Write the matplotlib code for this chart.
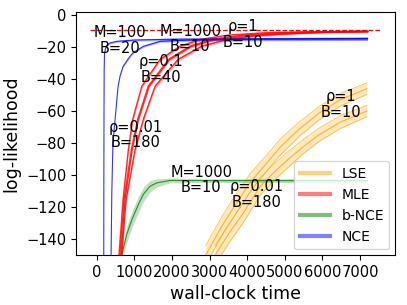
import matplotlib
matplotlib.use("Agg")
import matplotlib.pyplot as plt
import numpy as np

# ---------------- data ----------------
# NCE (blue)
nce1_x = [185, 188, 192, 196, 205, 230, 266, 354, 532, 1000, 2000, 4000, 7200]
nce1_y = [-150, -100, -60, -35, -24, -21, -19, -17.4, -16.4, -15.6, -15.1, -14.8, -14.6]
nce1_e = [0.5, 0.5, 0.5, 0.5, 0.5, 0.5, 0.5, 0.5, 0.6, 0.7, 0.8, 0.9, 1.0]
nce2_x = [380, 400, 430, 487, 566, 620, 700, 886, 965, 1240, 1683, 2500, 4000, 7200]
nce2_y = [-150, -110, -80, -65, -44.5, -38, -32, -25.7, -23.5, -19.5, -16.4, -15.6, -15.2, -14.9]
nce2_e = [0.5, 0.5, 0.5, 0.5, 0.5, 0.5, 0.5, 0.5, 0.5, 0.6, 0.7, 0.8, 0.9, 1.0]

# MLE (red)
mle1_x = [590, 700, 840, 957, 1197, 1680, 2215, 2750, 3500, 4500, 5500, 7200]
mle1_y = [-150, -115, -84, -65, -44.5, -27.8, -19.5, -15.3, -12.5, -11.0, -10.5, -10.2]
mle2_x = [630, 740, 930, 1100, 1380, 1920, 2500, 3100, 3900, 4800, 5800, 7200]
mle2_y = [-150, -115, -84, -65, -44.5, -27.8, -19.5, -15.3, -12.8, -11.5, -10.7, -10.2]
mle3_x = [665, 780, 1020, 1240, 1550, 2160, 2790, 3460, 4200, 5000, 6000, 7200]
mle3_y = [-150, -115, -84, -65, -44.5, -27.8, -19.5, -15.3, -13.0, -11.8, -10.8, -10.3]
mle_e = [3, 3, 2.5, 2, 1.5, 1.2, 1.0, 0.8, 0.6, 0.5, 0.4, 0.3]
mle_opt = -9.6

# b-NCE (green)
bnce_x = [665, 798, 931, 1107, 1240, 1418, 1596, 1950, 3000, 5000, 7200]
bnce_y = [-150, -137, -128, -118.4, -112, -107, -104.9, -103.4, -103.5, -103.5, -103.5]
bnce_e = [4, 5, 5, 5, 4.5, 3.5, 2.5, 1.5, 1.2, 1.2, 1.2]

# LSE (orange)
lse1_x = [2900, 3300, 3700, 4100, 4500, 4900, 5400, 5900, 6470, 7180]
lse1_y = [-150, -133, -118, -104, -93, -82, -71, -61.5, -53, -46]
lse1_e = [6, 6, 6, 5.5, 5, 5, 4.5, 4.2, 4, 3.6]
lse2_x = [3150, 3500, 3900, 4350, 4700, 5100, 5450, 5900, 6470, 7180]
lse2_y = [-150, -137, -123.6, -107, -98.6, -90, -83, -75, -67, -60]
lse2_e = [6, 6, 6, 5.5, 5, 5, 4.5, 4.2, 4, 3.6]

# annotations: (text, x, y)
labels = [
    ("M=100\nB=20", 620, -16),
    ("M=1000\nB=10", 2490, -15),
    ("ρ=0.1\nB=40", 1705, -34),
    ("ρ=1\nB=10", 3880, -12),
    ("ρ=0.01\nB=180", 1040, -75),
    ("M=1000\nB=10", 2780, -103),
    ("ρ=0.01\nB=180", 4255, -112),
    ("ρ=1\nB=10", 6490, -56),
]

legend_names = ["LSE", "MLE", "b-NCE", "NCE"]
legend_colors = ["orange", "red", "green", "blue"]

# ---------------- plot ----------------
fig = plt.figure(figsize=(4.07, 3.05), dpi=100)
ax = fig.add_axes([0.187, 0.164, 0.7835, 0.797])


def band(x, y, e, color, lw=0.8, alpha_fill=0.25, alpha_line=0.8, edge=False):
    x = np.asarray(x, float)
    y = np.asarray(y, float)
    e = np.asarray(e, float)
    ax.fill_between(x, y - e, y + e, color=color, alpha=alpha_fill, lw=0)
    if edge:
        ax.plot(x, y - e, color=color, lw=0.6, alpha=0.7)
        ax.plot(x, y + e, color=color, lw=0.6, alpha=0.7)
    ax.plot(x, y, color=color, lw=lw, alpha=alpha_line)


band(lse1_x, lse1_y, lse1_e, "orange", edge=True)
band(lse2_x, lse2_y, lse2_e, "orange", edge=True)
band(bnce_x, bnce_y, bnce_e, "green")
band(mle1_x, mle1_y, mle_e, "red", lw=1.0, alpha_fill=0.3)
band(mle2_x, mle2_y, mle_e, "red", lw=1.6, alpha_fill=0.3)
band(mle3_x, mle3_y, mle_e, "red", lw=1.0, alpha_fill=0.3)
band(nce1_x, nce1_y, nce1_e, "blue", alpha_fill=0.3)
band(nce2_x, nce2_y, nce2_e, "blue", alpha_fill=0.3)

ax.hlines(mle_opt, -180, 7540, colors="red", linestyles="--", lw=0.9)

for txt, x, y in labels:
    ax.text(x, y, txt, ha="center", va="center", fontsize=10.5, linespacing=1.05)

handles = [plt.Line2D([], [], color=c, lw=3, alpha=0.5) for c in legend_colors]
ax.legend(handles, legend_names, loc="lower right", fontsize=10,
          handlelength=2.2, borderaxespad=0.4)

ax.set_xlim(-550, 7930)
ax.set_ylim(-150, 2)
ax.set_xticks(range(0, 8000, 1000))
ax.set_yticks(range(-140, 1, 20))
ax.tick_params(labelsize=10.5)
ax.set_xlabel("wall-clock time", fontsize=12.5)
ax.set_ylabel("log-likelihood", fontsize=12.5)

fig.savefig("out.png", dpi=100)
